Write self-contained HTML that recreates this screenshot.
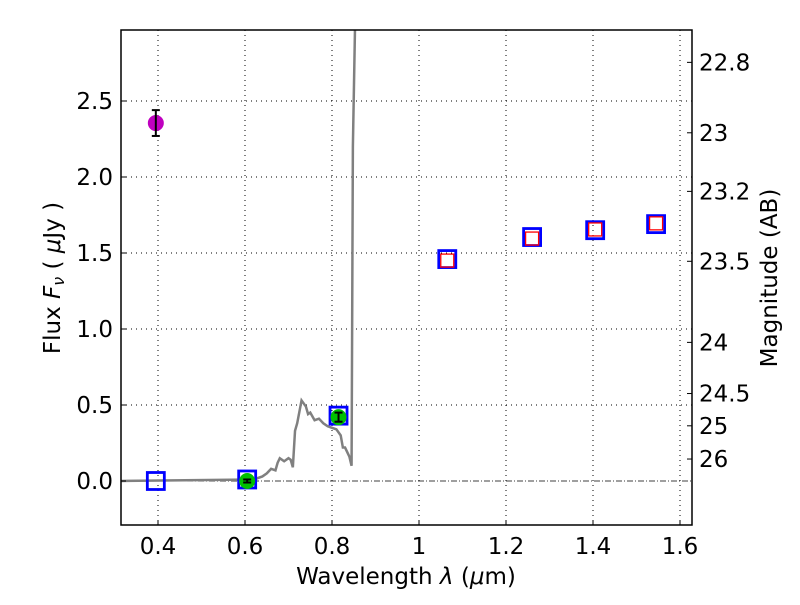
<!DOCTYPE html>
<html><head><meta charset="utf-8"><style>
body{margin:0;background:#fff;width:800px;height:600px;overflow:hidden}
svg text{font-family:"DejaVu Sans","Liberation Sans",sans-serif;fill:#000}
</style></head><body>
<svg id="chart" width="800" height="600" xmlns="http://www.w3.org/2000/svg">
<g id="grid"></g>
<g id="marks"></g>
<rect x="121" y="30" width="571" height="495" fill="none" stroke="#000" stroke-width="1.5"/>
<g id="axes"></g>
<text x="406" y="584" font-size="23" text-anchor="middle">Wavelength  <tspan font-style="italic">λ</tspan> (<tspan font-style="italic">μ</tspan>m)</text>
<text transform="translate(60,278) rotate(-90)" font-size="23" text-anchor="middle">Flux  <tspan font-style="italic">F<tspan font-size="16" dy="4">ν</tspan></tspan><tspan dy="-4">  ( </tspan><tspan font-style="italic">μ</tspan>Jy )</text>
<text transform="translate(777,278) rotate(-90)" font-size="23" text-anchor="middle">Magnitude (AB)</text>
</svg>
<script>
const xTicks=[0.4,0.6,0.8,1.0,1.2,1.4,1.6];
const xTickLabels=["0.4","0.6","0.8","1","1.2","1.4","1.6"];
const yTicks=[0,0.5,1.0,1.5,2.0,2.5];
const yTickLabels=["0.0","0.5","1.0","1.5","2.0","2.5"];
const magTicks=[22.8,23,23.2,23.5,24,24.5,25,26];
const magLabels=["22.8","23","23.2","23.5","24","24.5","25","26"];
const modelWave=[0.31,0.62,0.64,0.65,0.66,0.67,0.675,0.68,0.69,0.70,0.705,0.71,0.715,0.72,0.73,0.74,0.745,0.75,0.76,0.77,0.78,0.79,0.80,0.81,0.82,0.825,0.83,0.84,0.845,0.848,0.853];
const modelFlux=[0,0.01,0.03,0.05,0.08,0.07,0.12,0.15,0.13,0.15,0.14,0.09,0.33,0.38,0.53,0.49,0.44,0.45,0.40,0.41,0.38,0.36,0.35,0.34,0.30,0.22,0.22,0.16,0.10,2.2,3.0];
const obsUpWave=[0.395];const obsUpFlux=[2.355];const obsUpErr=[0.085];
const obsWave=[0.605,0.815];const obsFlux=[0.0,0.42];const obsErr=[0.01,0.03];
const synWave=[0.395,0.605,0.815,1.065,1.26,1.405,1.545];
const synFlux=[0.0,0.01,0.43,1.46,1.605,1.65,1.69];
const irWave=[1.065,1.26,1.405,1.545];
const irFlux=[1.45,1.595,1.655,1.695];
const L=121,R=692,T=30,B=525;
const xs=v=>158+(v-0.4)*435;
const ys=v=>481-v*152;
const NS="http://www.w3.org/2000/svg";
function mk(p,tag,at){const e=document.createElementNS(NS,tag);for(const k in at)e.setAttribute(k,at[k]);p.appendChild(e);return e;}
const grid=document.getElementById('grid'),axes=document.getElementById('axes'),marks=document.getElementById('marks');
xTicks.forEach((v,i)=>{const x=xs(v);
 const g=mk(grid,'line',{x1:x,x2:x,y1:T,y2:B,stroke:'#000','stroke-dasharray':'1,4','stroke-width':1});
 
 const t=mk(axes,'line',{x1:x,x2:x,y1:B,y2:B-5,stroke:'#000'});
 const l=mk(axes,'text',{x:x,y:554,'font-size':23,'text-anchor':'middle'});l.textContent=xTickLabels[i];
 });
yTicks.forEach((v,i)=>{const y=ys(v);
 if(v!==0){const g=mk(grid,'line',{x1:L,x2:R,y1:y,y2:y,stroke:'#000','stroke-dasharray':'1,4','stroke-width':1});
 }
 const t=mk(axes,'line',{x1:L,x2:L+5,y1:y,y2:y,stroke:'#000'});
 const l=mk(axes,'text',{x:113,y:y+8,'font-size':23,'text-anchor':'end'});l.textContent=yTickLabels[i];
 });
magTicks.forEach((m,i)=>{const y=ys(Math.pow(10,(23.9-m)/2.5));
 const t=mk(axes,'line',{x1:R,x2:R-5,y1:y,y2:y,stroke:'#000'});
 const l=mk(axes,'text',{x:699,y:y+8,'font-size':23});l.textContent=magLabels[i];
 });
const zl=mk(marks,'line',{x1:L,x2:R,y1:ys(0),y2:ys(0),stroke:'#000','stroke-dasharray':'6,2,1,2','stroke-width':0.8});

const cp=mk(marks,'clipPath',{id:'clip'});mk(cp,'rect',{x:L,y:T,width:R-L,height:B-T});
const pl=mk(marks,'polyline',{points:modelWave.map((w,i)=>xs(w)+','+ys(modelFlux[i])).join(' '),fill:'none',stroke:'#808080','stroke-width':2.5,'clip-path':'url(#clip)'});

synWave.forEach((w,i)=>{const x=xs(w),y=ys(synFlux[i]);
 const r=mk(marks,'rect',{x:x-8.5,y:y-8.5,width:17,height:17,fill:'none',stroke:'#0000ff','stroke-width':2.8});
 });
irWave.forEach((w,i)=>{const x=xs(w),y=ys(irFlux[i]);
 const r=mk(marks,'rect',{x:x-6.5,y:y-6.5,width:13,height:13,fill:'none',stroke:'#ff0000','stroke-width':1.3});
 });
function pt(w,f,e,col,name){const x=xs(w),y=ys(f);
 const c=mk(marks,'circle',{cx:x,cy:y,r:8,fill:col});
 const g=mk(marks,'g',{stroke:'#000','stroke-width':2});
 const y1=ys(f+e),y2=ys(f-e);
 mk(g,'line',{x1:x,x2:x,y1:y1,y2:y2});mk(g,'line',{x1:x-4,x2:x+4,y1:y1,y2:y1});mk(g,'line',{x1:x-4,x2:x+4,y1:y2,y2:y2});}
obsUpWave.forEach((w,i)=>pt(w,obsUpFlux[i],obsUpErr[i],'#bf00bf','uv-observed-point'));
obsWave.forEach((w,i)=>pt(w,obsFlux[i],obsErr[i],'#00c000','observed-point'));
</script>
</body></html>
